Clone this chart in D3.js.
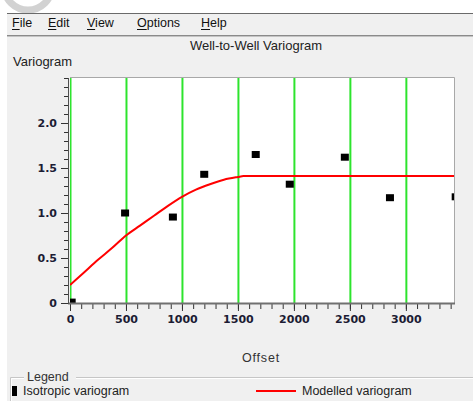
<!DOCTYPE html>
<html>
<head>
<meta charset="utf-8">
<script src="https://cdn.jsdelivr.net/npm/d3@7/dist/d3.min.js"></script>
<style>
  html, body { margin: 0; padding: 0; background: #ffffff; }
  svg { display: block; font-family: "Liberation Sans", Arial, sans-serif; }
</style>
</head>
<body>
<svg id="chart" width="473" height="401"></svg>
<script>
// Experimental variogram (isotropic) points
const lagOffsets   = [15, 492, 919, 1199, 1659, 1963, 2455, 2858, 3445];
const lagVariogram = [0.01, 1.00, 0.955, 1.43, 1.65, 1.32, 1.62, 1.17, 1.18];

// Fitted model curve, sampled along offset
const modelOffsets   = [0, 125, 250, 375, 500, 625, 750, 875, 1000, 1125, 1250, 1375, 1500, 1550, 3430];
const modelVariogram = [0.20, 0.34, 0.48, 0.61, 0.75, 0.86, 0.97, 1.08, 1.18, 1.26, 1.32, 1.37, 1.40, 1.41, 1.41];

const xTicks = [0, 500, 1000, 1500, 2000, 2500, 3000];
const yTicks = [0, 0.5, 1.0, 1.5, 2.0];
const yTickLabels = ["0", "0.5", "1.0", "1.5", "2.0"];
const menuItems = ["File", "Edit", "View", "Options", "Help"];

const svg = d3.select("#chart");

// Window chrome
svg.append("circle").attr("cx", 28).attr("cy", -14).attr("r", 24)
  .attr("fill", "none").attr("stroke", "#d2d2d2").attr("stroke-width", 7);
svg.append("rect").attr("x", 7).attr("y", 13).attr("width", 466).attr("height", 388).attr("fill", "#f0f0f0");
svg.append("line").attr("x1", 7).attr("x2", 473).attr("y1", 13.5).attr("y2", 13.5).attr("stroke", "#6a6a6a");
svg.append("line").attr("x1", 7).attr("x2", 473).attr("y1", 35.5).attr("y2", 35.5).attr("stroke", "#8a8a8a");
svg.append("line").attr("x1", 7).attr("x2", 473).attr("y1", 36.5).attr("y2", 36.5).attr("stroke", "#c4c4c4");

// Menu bar
const menuX = [12, 48, 87, 137, 201];
menuItems.forEach((m, i) => {
  const t = svg.append("text").attr("x", menuX[i]).attr("y", 27)
    .attr("font-size", 12.5).attr("fill", "#111").text(m);
  const w = t.node().getSubStringLength(0, 1);
  svg.append("line").attr("x1", menuX[i]).attr("x2", menuX[i] + w)
    .attr("y1", 29.5).attr("y2", 29.5).attr("stroke", "#111");
});

// Titles
svg.append("text").attr("x", 256).attr("y", 50).attr("text-anchor", "middle")
  .attr("font-size", 13).attr("fill", "#222").text("Well-to-Well Variogram");
svg.append("text").attr("x", 13).attr("y", 66)
  .attr("font-size", 13).attr("fill", "#222").text("Variogram");
svg.append("text").attr("x", 261).attr("y", 362).attr("text-anchor", "middle")
  .attr("font-size", 12.5).attr("letter-spacing", 0.8).attr("fill", "#333").text("Offset");

// Plot area
const pLeft = 70, pRight = 454, pTop = 78, pBottom = 303;
const x = d3.scaleLinear().domain([0, 3430]).range([pLeft, pRight]);
const y = d3.scaleLinear().domain([0, 2.5]).range([pBottom, pTop]);

svg.append("rect").attr("x", pLeft).attr("y", pTop).attr("width", pRight - pLeft).attr("height", pBottom - pTop)
  .attr("fill", "#ffffff");
svg.append("path").attr("d", `M${pLeft},${pTop - 0.5}H${pRight + 0.5}V${pBottom}`)
  .attr("fill", "none").attr("stroke", "#a8a8a8");

svg.append("defs").append("clipPath").attr("id", "plotClip")
  .append("rect").attr("x", pLeft).attr("y", pTop).attr("width", pRight - pLeft).attr("height", pBottom - pTop);
const plot = svg.append("g").attr("clip-path", "url(#plotClip)");

// Vertical grid lines
plot.selectAll("line.grid").data(xTicks).join("line").attr("class", "grid")
  .attr("x1", d => x(d) + 0.5).attr("x2", d => x(d) + 0.5)
  .attr("y1", pTop).attr("y2", pBottom)
  .attr("stroke", "#2de42d").attr("stroke-width", 2);

// Model curve
const line = d3.line().curve(d3.curveMonotoneX)
  .x((d, i) => x(modelOffsets[i])).y(d => y(d));
plot.append("path").datum(modelVariogram).attr("d", line)
  .attr("fill", "none").attr("stroke", "#ff0000").attr("stroke-width", 2);

// Experimental points
const sw = 8, sh = 7;
plot.selectAll("rect.pt").data(lagVariogram).join("rect").attr("class", "pt")
  .attr("x", (d, i) => x(lagOffsets[i]) - sw / 2).attr("y", d => y(d) - sh / 2)
  .attr("width", sw).attr("height", sh).attr("fill", "#000");

// Axes
const xAxisMinor = d3.axisBottom(x).tickValues(d3.range(0, 3401, 100)).tickSize(5).tickFormat("");
const xAxis = d3.axisBottom(x).tickValues(xTicks).tickSize(7).tickPadding(4).tickFormat(d3.format("d"));
const yAxisMinor = d3.axisLeft(y).tickValues(d3.range(0, 2.51, 0.1)).tickSize(4).tickFormat("");
const yAxis = d3.axisLeft(y).tickValues(yTicks).tickSize(7).tickPadding(4).tickFormat((d, i) => yTickLabels[i]);

function styleAxis(g) {
  g.select(".domain").remove();
  g.selectAll("line").attr("stroke", "#333");
  g.selectAll("text").attr("font-size", 11).attr("font-weight", "bold")
    .attr("fill", "#1c1c34").attr("font-family", "\"DejaVu Sans\", sans-serif");
}
svg.append("g").attr("transform", `translate(0,${pBottom + 1})`).call(xAxisMinor).call(styleAxis);
svg.append("g").attr("transform", `translate(0,${pBottom + 1})`).call(xAxis).call(styleAxis);
svg.append("g").attr("transform", `translate(${pLeft - 2},0)`).call(yAxisMinor).call(styleAxis);
svg.append("g").attr("transform", `translate(${pLeft - 2},0)`).call(yAxis).call(styleAxis);

// Axis lines
svg.append("line").attr("x1", pLeft - 2).attr("x2", pRight + 1).attr("y1", pBottom + 0.5).attr("y2", pBottom + 0.5)
  .attr("stroke", "#707070").attr("stroke-width", 2);
svg.append("line").attr("x1", pLeft - 1.5).attr("x2", pLeft - 1.5).attr("y1", pTop).attr("y2", pBottom + 1)
  .attr("stroke", "#505050").attr("stroke-width", 1);

// Legend group box
svg.append("path").attr("d", "M10.5,401V377.5H24M76,377.5H473")
  .attr("fill", "none").attr("stroke", "#c6c6c6");
svg.append("path").attr("d", "M11.5,401V378.5H24M76,378.5H473")
  .attr("fill", "none").attr("stroke", "#ffffff");
svg.append("text").attr("x", 27).attr("y", 381).attr("font-size", 12.5).attr("fill", "#333").text("Legend");

svg.append("rect").attr("x", 12).attr("y", 386).attr("width", 5).attr("height", 10).attr("fill", "#000");
svg.append("text").attr("x", 23).attr("y", 395).attr("font-size", 12.5).attr("fill", "#222").text("Isotropic variogram");
svg.append("line").attr("x1", 256).attr("x2", 296).attr("y1", 391).attr("y2", 391)
  .attr("stroke", "#ff0000").attr("stroke-width", 2);
svg.append("text").attr("x", 302).attr("y", 395).attr("font-size", 12.5).attr("fill", "#222").text("Modelled variogram");
</script>
</body>
</html>
